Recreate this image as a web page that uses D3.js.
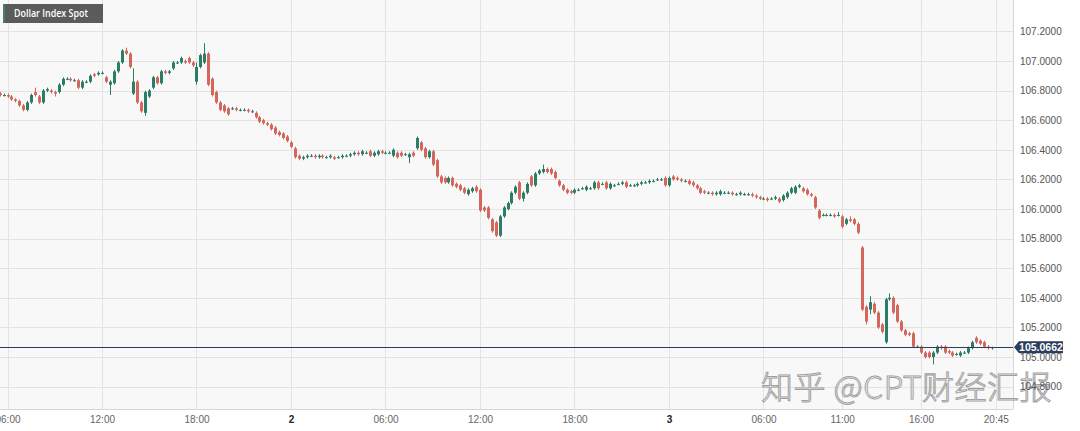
<!DOCTYPE html>
<html>
<head>
<meta charset="utf-8">
<script src="https://cdn.jsdelivr.net/npm/d3@7"></script>
<style>
  html, body { margin: 0; padding: 0; background: #ffffff; }
  svg { display: block; font-family: "Liberation Sans", Arial, sans-serif; }
</style>
</head>
<body>
<svg id="chart" width="1080" height="431"></svg>
<script>
// ---------------- DATA (15-minute candles, Dollar Index Spot) ----------------
const title = "Dollar Index Spot";
const firstCandle = Date.UTC(2023, 10, 1, 5, 30); // day "1", 05:30
const intervalMinutes = 15;
const lastPrice = 105.0662;

const opens = [
106.78,106.77,106.77,106.76,106.74,106.73,106.70,106.67,106.72,106.79,
106.76,106.72,106.80,106.80,106.79,106.79,106.84,106.88,106.88,106.87,
106.87,106.82,106.86,106.86,106.91,106.91,106.92,106.89,106.84,106.85,
106.93,106.99,107.07,107.05,106.78,106.86,106.72,106.65,106.76,106.82,
106.89,106.85,106.93,106.92,106.95,106.99,106.99,107.00,107.02,106.99,
106.86,106.96,106.99,107.05,106.88,106.79,106.72,106.70,106.68,106.68,
106.68,106.67,106.67,106.67,106.66,106.65,106.62,106.60,106.58,106.57,
106.55,106.52,106.51,106.49,106.45,106.41,106.36,106.34,106.35,106.36,
106.36,106.35,106.36,106.35,106.35,106.35,106.35,106.35,106.36,106.36,
106.37,106.38,106.37,106.38,106.39,106.36,106.37,106.39,106.38,106.38,
106.36,106.38,106.38,106.37,106.35,106.38,106.41,106.45,106.41,106.35,
106.39,106.33,106.22,106.21,106.18,106.21,106.17,106.16,106.14,106.10,
106.12,106.15,106.13,106.01,106.01,105.93,105.91,105.82,105.95,106.00,
106.04,106.11,106.18,106.07,106.11,106.22,106.16,106.24,106.25,106.27,
106.27,106.25,106.19,106.16,106.13,106.12,106.11,106.13,106.14,106.13,
106.14,106.14,106.18,106.17,106.18,106.14,106.16,106.17,106.17,106.18,
106.16,106.16,106.16,106.17,106.18,106.18,106.19,106.20,106.20,106.21,
106.16,106.22,106.21,106.20,106.19,106.19,106.18,106.16,106.14,106.12,
106.11,106.11,106.10,106.10,106.11,106.11,106.11,106.10,106.10,106.10,
106.10,106.10,106.09,106.08,106.07,106.07,106.07,106.07,106.07,106.06,
106.08,106.11,106.11,106.15,106.14,106.13,106.10,106.08,105.99,105.96,
105.96,105.96,105.96,105.96,105.95,105.90,105.93,105.93,105.90,105.74,
105.34,105.32,105.36,105.30,105.22,105.10,105.39,105.40,105.35,105.24,
105.18,105.16,105.16,105.07,105.07,105.03,105.03,105.00,105.03,105.07,
105.07,105.04,105.03,105.02,105.01,105.03,105.03,105.06,105.13,105.11,
105.10,105.07,105.06];

const highs = [
106.79,106.78,106.78,106.77,106.75,106.74,106.71,106.73,106.78,106.82,
106.77,106.81,106.82,106.81,106.80,106.85,106.89,106.89,106.89,106.88,
106.88,106.87,106.87,106.91,106.92,106.93,106.93,106.90,106.87,106.94,
107.00,107.08,107.09,107.06,106.95,106.87,106.73,106.80,106.81,106.90,
106.90,106.94,106.94,106.94,107.00,107.00,107.03,107.01,107.03,107.00,
106.99,107.05,107.12,107.06,106.89,106.80,106.73,106.71,106.69,106.69,
106.69,106.68,106.68,106.68,106.67,106.66,106.63,106.61,106.59,106.58,
106.56,106.53,106.52,106.50,106.46,106.42,106.37,106.36,106.37,106.37,
106.37,106.37,106.37,106.36,106.37,106.36,106.36,106.37,106.37,106.38,
106.39,106.39,106.40,106.39,106.40,106.39,106.40,106.40,106.39,106.39,
106.41,106.39,106.39,106.38,106.38,106.39,106.49,106.46,106.42,106.40,
106.40,106.34,106.23,106.22,106.22,106.22,106.18,106.17,106.15,106.14,
106.15,106.16,106.14,106.02,106.02,105.94,105.92,105.96,106.02,106.05,
106.12,106.16,106.19,106.12,106.18,106.23,106.25,106.27,106.30,106.28,
106.28,106.26,106.20,106.17,106.14,106.13,106.14,106.14,106.15,106.16,
106.15,106.19,106.19,106.18,106.19,106.18,106.17,106.18,106.19,106.19,
106.17,106.17,106.18,106.19,106.19,106.20,106.20,106.21,106.21,106.22,
106.22,106.23,106.22,106.21,106.20,106.20,106.19,106.17,106.15,106.13,
106.12,106.12,106.12,106.13,106.12,106.12,106.12,106.11,106.12,106.11,
106.11,106.11,106.10,106.09,106.08,106.08,106.08,106.09,106.08,106.10,
106.12,106.15,106.16,106.17,106.15,106.14,106.11,106.09,106.00,105.97,
105.97,105.97,105.97,105.98,105.96,105.94,105.95,105.94,105.91,105.75,
105.35,105.41,105.37,105.31,105.23,105.40,105.43,105.41,105.36,105.25,
105.19,105.17,105.17,105.08,105.08,105.04,105.04,105.04,105.08,105.08,
105.08,105.05,105.04,105.03,105.04,105.04,105.07,105.11,105.14,105.12,
105.11,105.08,105.07];

const lows = [
106.76,106.76,106.75,106.73,106.72,106.69,106.66,106.66,106.71,106.76,
106.71,106.71,106.79,106.78,106.76,106.78,106.83,106.87,106.86,106.86,
106.81,106.81,106.85,106.85,106.89,106.90,106.91,106.85,106.77,106.84,
106.92,106.98,107.04,106.95,106.77,106.71,106.65,106.63,106.75,106.81,
106.84,106.84,106.91,106.91,106.94,106.98,106.98,106.98,106.98,106.96,
106.84,106.95,106.98,106.83,106.76,106.71,106.66,106.65,106.63,106.67,
106.66,106.66,106.66,106.65,106.65,106.61,106.58,106.57,106.56,106.53,
106.50,106.49,106.47,106.45,106.41,106.34,106.33,106.33,106.34,106.35,
106.34,106.34,106.34,106.34,106.34,106.33,106.34,106.34,106.35,106.35,
106.36,106.36,106.36,106.37,106.35,106.35,106.36,106.37,106.37,106.37,
106.35,106.34,106.35,106.36,106.31,106.35,106.40,106.39,106.34,106.34,
106.29,106.21,106.17,106.17,106.17,106.15,106.14,106.12,106.10,106.09,
106.11,106.11,105.98,105.98,105.93,105.84,105.81,105.81,105.94,105.99,
106.03,106.10,106.06,106.05,106.10,106.15,106.15,106.23,106.24,106.24,
106.23,106.20,106.15,106.12,106.10,106.10,106.10,106.12,106.13,106.12,
106.13,106.13,106.13,106.16,106.13,106.13,106.15,106.16,106.16,106.14,
106.15,106.15,106.15,106.16,106.17,106.17,106.18,106.19,106.19,106.15,
106.15,106.19,106.19,106.18,106.18,106.16,106.15,106.13,106.10,106.10,
106.10,106.09,106.09,106.09,106.10,106.10,106.09,106.09,106.09,106.09,
106.09,106.08,106.07,106.06,106.06,106.05,106.06,106.06,106.04,106.05,
106.07,106.10,106.10,106.14,106.11,106.09,106.08,106.00,105.93,105.95,
105.95,105.95,105.94,105.95,105.87,105.89,105.91,105.89,105.83,105.31,
105.22,105.29,105.29,105.19,105.16,105.09,105.38,105.29,105.23,105.17,
105.14,105.14,105.06,105.06,105.02,104.99,104.99,104.95,105.02,105.05,
105.02,105.02,105.00,105.01,105.00,105.02,105.02,105.05,105.09,105.08,
105.06,105.05,105.05];

const closes = [
106.77,106.77,106.76,106.74,106.73,106.70,106.67,106.72,106.77,106.77,
106.72,106.80,106.81,106.79,106.78,106.84,106.88,106.88,106.87,106.87,
106.82,106.86,106.86,106.90,106.90,106.92,106.92,106.86,106.86,106.93,
106.99,107.07,107.05,106.96,106.86,106.72,106.66,106.79,106.80,106.89,
106.85,106.93,106.92,106.93,106.99,106.99,107.02,106.99,106.99,106.97,
106.96,107.04,107.05,106.84,106.77,106.72,106.67,106.66,106.64,106.68,
106.67,106.67,106.67,106.66,106.66,106.62,106.59,106.58,106.57,106.54,
106.51,106.50,106.48,106.46,106.42,106.35,106.34,106.35,106.36,106.36,
106.35,106.36,106.35,106.35,106.36,106.34,106.35,106.36,106.36,106.37,
106.38,106.37,106.39,106.38,106.36,106.38,106.39,106.38,106.38,106.38,
106.40,106.35,106.36,106.37,106.37,106.36,106.48,106.40,106.35,106.39,
106.30,106.22,106.18,106.18,106.21,106.16,106.15,106.13,106.11,106.13,
106.14,106.12,105.99,105.99,105.94,105.85,105.82,105.95,106.01,106.04,
106.11,106.15,106.07,106.11,106.17,106.16,106.24,106.26,106.27,106.25,
106.24,106.21,106.16,106.13,106.11,106.11,106.13,106.13,106.14,106.15,
106.14,106.18,106.14,106.17,106.14,106.17,106.16,106.17,106.18,106.15,
106.16,106.16,106.17,106.18,106.18,106.19,106.19,106.20,106.20,106.16,
106.21,106.20,106.20,106.19,106.19,106.17,106.16,106.14,106.11,106.11,
106.11,106.10,106.11,106.12,106.11,106.11,106.10,106.10,106.11,106.10,
106.10,106.09,106.08,106.07,106.07,106.06,106.07,106.08,106.05,106.09,
106.11,106.14,106.15,106.16,106.12,106.10,106.09,106.01,105.94,105.96,
105.96,105.96,105.95,105.96,105.88,105.93,105.92,105.90,105.84,105.32,
105.24,105.37,105.30,105.20,105.17,105.39,105.40,105.30,105.24,105.18,
105.15,105.15,105.07,105.07,105.03,105.00,105.00,105.03,105.07,105.06,
105.03,105.03,105.01,105.02,105.03,105.03,105.06,105.10,105.10,105.09,
105.07,105.06,105.066];

// axis ticks
const xTickTimes = [
  Date.UTC(2023,10,1,6,0), Date.UTC(2023,10,1,12,0), Date.UTC(2023,10,1,18,0),
  Date.UTC(2023,10,2,0,0), Date.UTC(2023,10,2,6,0), Date.UTC(2023,10,2,12,0),
  Date.UTC(2023,10,2,18,0), Date.UTC(2023,10,3,0,0), Date.UTC(2023,10,3,6,0),
  Date.UTC(2023,10,3,11,0), Date.UTC(2023,10,3,16,0), Date.UTC(2023,10,3,20,45)
];
const xTickLabels = ["06:00","12:00","18:00","2","06:00","12:00","18:00","3","06:00","11:00","16:00","20:45"];
const yTickValues = [104.8,105.0,105.2,105.4,105.6,105.8,106.0,106.2,106.4,106.6,106.8,107.0,107.2];
const watermark = "知乎 @CPT财经汇报";

// ---------------- BUILD ----------------
const candles = closes.map((c, i) => ({
  t: new Date(firstCandle + i * intervalMinutes * 60000),
  o: opens[i], h: highs[i], l: lows[i], c: c
}));

const plot = { left: 0, top: 0, right: 1013, bottom: 409 };

const svg = d3.select("#chart");

const x = d3.scaleUtc()
  .domain([new Date(Date.UTC(2023,10,1,6,0)), new Date(Date.UTC(2023,10,3,20,45))])
  .range([7.5, 995.8]);
const y = d3.scaleLinear().domain([105.0, 107.2]).range([357, 31.4]);

const UP = "#2c7d67", DOWN = "#d4675a";

// plot background
svg.append("rect").attr("x", plot.left).attr("y", plot.top)
  .attr("width", plot.right - plot.left).attr("height", plot.bottom - plot.top)
  .attr("fill", "#f8f8f8");

svg.append("defs").append("clipPath").attr("id", "plotclip")
  .append("rect").attr("x", plot.left).attr("y", plot.top)
  .attr("width", plot.right - plot.left).attr("height", plot.bottom - plot.top);

// grid
const grid = svg.append("g").attr("clip-path", "url(#plotclip)");
grid.selectAll("line.h").data(yTickValues).join("line")
  .attr("x1", plot.left).attr("x2", plot.right)
  .attr("y1", d => Math.round(y(d)) + 0.5).attr("y2", d => Math.round(y(d)) + 0.5)
  .attr("stroke", "#e3e3e3").attr("stroke-width", 1);
grid.selectAll("line.v").data(xTickTimes).join("line")
  .attr("x1", d => Math.round(x(d)) + 0.5).attr("x2", d => Math.round(x(d)) + 0.5)
  .attr("y1", plot.top).attr("y2", plot.bottom)
  .attr("stroke", "#e3e3e3").attr("stroke-width", 1);

// plot border (right & bottom)
svg.append("line").attr("x1", plot.right + 0.5).attr("x2", plot.right + 0.5)
  .attr("y1", 0).attr("y2", plot.bottom).attr("stroke", "#d6d6d6");
svg.append("line").attr("x1", 0).attr("x2", plot.right)
  .attr("y1", plot.bottom + 0.5).attr("y2", plot.bottom + 0.5).attr("stroke", "#d6d6d6");

// watermark (behind the marks)
svg.append("text")
  .attr("x", 1052).attr("y", 399).attr("text-anchor", "end")
  .attr("font-family", "'Noto Sans CJK SC', 'Noto Sans', sans-serif")
  .attr("font-size", 32).attr("font-weight", 300)
  .attr("fill", "#ffffff").attr("stroke", "#a0a0a0").attr("stroke-width", 1)
  .attr("letter-spacing", 0.5)
  .text(watermark);

// candles
const cg = svg.append("g").attr("clip-path", "url(#plotclip)");
const bodyW = 3;
const g = cg.selectAll("g.c").data(candles).join("g");
g.append("line")
  .attr("x1", d => Math.round(x(d.t)) + 0.5).attr("x2", d => Math.round(x(d.t)) + 0.5)
  .attr("y1", d => y(d.h)).attr("y2", d => y(d.l))
  .attr("stroke", d => d.c >= d.o ? UP : DOWN).attr("stroke-width", 1);
g.append("rect")
  .attr("x", d => Math.round(x(d.t)) - 1)
  .attr("width", bodyW)
  .attr("y", d => y(Math.max(d.o, d.c)))
  .attr("height", d => Math.max(1, Math.abs(y(d.o) - y(d.c))))
  .attr("fill", d => d.c >= d.o ? UP : DOWN);

// last price line
svg.append("line").attr("x1", 0).attr("x2", plot.right)
  .attr("y1", Math.round(y(lastPrice)) + 0.5).attr("y2", Math.round(y(lastPrice)) + 0.5)
  .attr("stroke", "#2a3d5a").attr("stroke-width", 1);

// y axis (right)
const yAxis = d3.axisRight(y).tickValues(yTickValues).tickSize(0).tickPadding(0)
  .tickFormat(d3.format(".4f"));
const ya = svg.append("g").attr("transform", `translate(1020,0)`).call(yAxis);
ya.select(".domain").remove();
ya.selectAll("text").attr("font-size", 10).attr("fill", "#555")
  .attr("font-family", "'Liberation Sans', Arial, sans-serif");

// last price badge
const by = y(lastPrice);
svg.append("path")
  .attr("d", `M1014,${by} L1019,${by - 6} L1063,${by - 6} L1063,${by + 6} L1019,${by + 6} Z`)
  .attr("fill", "#2a3d5a");
svg.append("text").attr("x", 1041).attr("y", by + 3.8).attr("text-anchor", "middle")
  .attr("font-size", 10.5).attr("font-weight", "bold").attr("fill", "#fff")
  .text(d3.format(".4f")(lastPrice));

// x axis (bottom)
const xAxis = d3.axisBottom(x).tickValues(xTickTimes.map(d => new Date(d)))
  .tickSize(0).tickPadding(0)
  .tickFormat((d, i) => xTickLabels[i]);
const xa = svg.append("g").attr("transform", `translate(0,416)`).call(xAxis);
xa.select(".domain").remove();
xa.selectAll("text")
  .attr("font-size", 10)
  .attr("font-family", "'Liberation Sans Narrow', 'Liberation Sans', Arial, sans-serif")
  .attr("font-weight", (d, i) => (xTickLabels[i] === "2" || xTickLabels[i] === "3") ? "bold" : "normal")
  .attr("fill", (d, i) => (xTickLabels[i] === "2" || xTickLabels[i] === "3") ? "#222" : "#666");

// title box
svg.append("rect").attr("x", 3).attr("y", 4).attr("width", 100).attr("height", 19)
  .attr("fill", "#5b5b5b");
svg.append("rect").attr("x", 3).attr("y", 4).attr("width", 2).attr("height", 19)
  .attr("fill", "#4d7a6a");
svg.append("text").attr("x", 14).attr("y", 17.3)
  .attr("font-size", 9.8).attr("fill", "#fff").attr("font-weight", 600)
  .attr("font-family", "'Open Sans', 'Liberation Sans', Arial, sans-serif")
  .attr("textLength", 74).attr("lengthAdjust", "spacingAndGlyphs")
  .text(title);
</script>
</body>
</html>
